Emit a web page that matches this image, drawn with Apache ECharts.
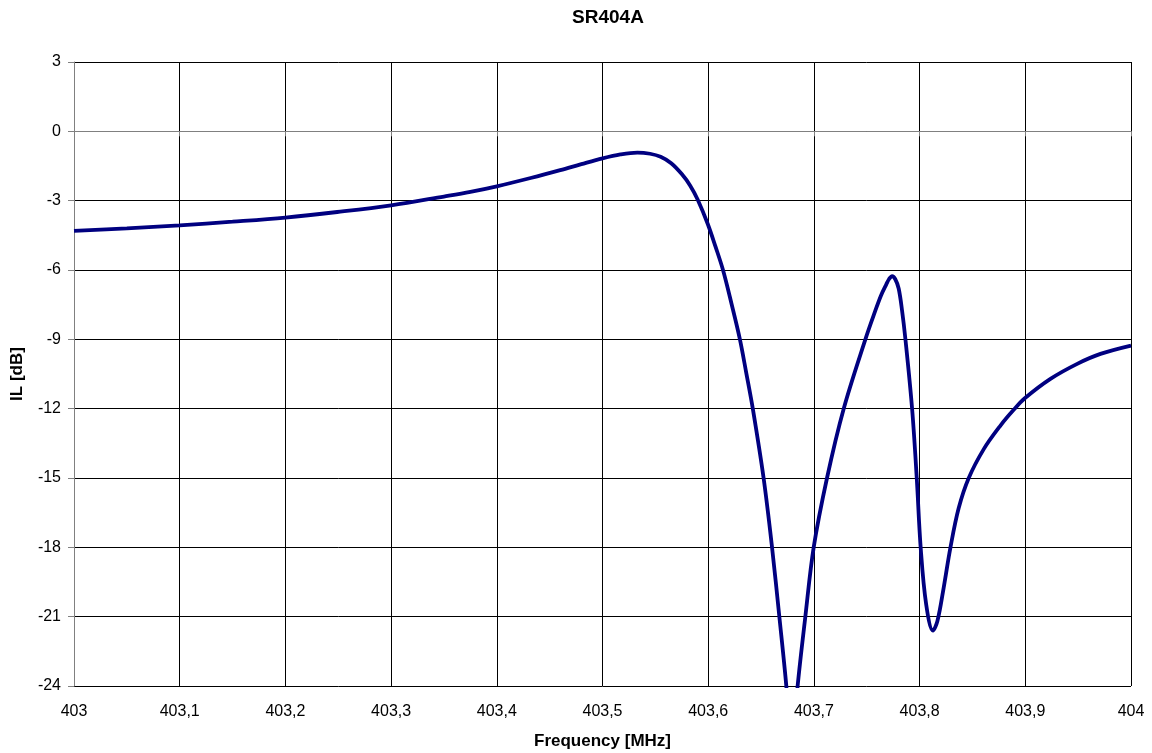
<!DOCTYPE html>
<html>
<head>
<meta charset="utf-8">
<script src="https://cdn.jsdelivr.net/npm/echarts@6/dist/echarts.min.js"></script>
<style>
html,body{margin:0;padding:0;background:#fff;}
#chart{width:1152px;height:753px;}
</style>
</head>
<body>
<div id="chart"></div>
<script>
const chartTitle = "SR404A";
const xAxisName = "Frequency [MHz]";
const yAxisName = "IL [dB]";
const frequency = [
  403.000, 403.050, 403.100, 403.150, 403.200, 403.249, 403.300, 403.350, 403.375, 403.400,
  403.432, 403.460, 403.480, 403.500, 403.517, 403.533, 403.545, 403.555, 403.565, 403.575,
  403.583, 403.590, 403.5995, 403.607, 403.614, 403.622, 403.630, 403.636, 403.6422, 403.6524,
  403.6604, 403.6673, 403.6739, 403.679, 403.6846, 403.6919, 403.6998, 403.7124, 403.7282, 403.7487,
  403.7582, 403.7635, 403.7685, 403.771, 403.774, 403.777, 403.7802, 403.7834, 403.7866, 403.7929,
  403.7973, 403.801, 403.8062, 403.8126, 403.8168, 403.8228, 403.8292, 403.837, 403.8465, 403.8607,
  403.8765, 403.889, 403.8995, 403.9238, 403.9491, 403.9711, 404.000
];
const ilDb = [
  -4.31, -4.20, -4.07, -3.91, -3.73, -3.49, -3.20, -2.82, -2.62, -2.38,
  -2.02, -1.68, -1.42, -1.17, -1.00, -0.92, -0.97, -1.10, -1.38, -1.85,
  -2.35, -2.95, -4.00, -5.00, -6.00, -7.45, -9.00, -10.45, -12.00, -15.00,
  -18.00, -21.00, -24.00, -27.00, -24.00, -21.00, -18.00, -15.00, -12.00, -9.00,
  -7.75, -7.10, -6.62, -6.40, -6.27, -6.40, -6.80, -7.75, -9.00, -12.00,
  -15.00, -18.00, -20.46, -21.60, -21.20, -19.74, -18.00, -16.30, -15.00, -13.75,
  -12.73, -12.05, -11.55, -10.71, -10.06, -9.63, -9.27
];
const xMin = 403, xMax = 404, xStep = 0.1;
const yMin = -24, yMax = 3, yStep = 3;

const seriesData = frequency.map((f, i) => [f, ilDb[i]]);
const fontFam = '"Liberation Sans", Arial, Helvetica, sans-serif';

const chart = echarts.init(document.getElementById('chart'));
chart.setOption({
  backgroundColor: '#ffffff',
  animation: false,
  title: {
    text: chartTitle,
    left: 603, textAlign: 'center', top: 3,
    textStyle: { fontFamily: fontFam, fontSize: 19, fontWeight: 'bold', color: '#000' }
  },
  grid: { left: 74, top: 62, width: 1057, height: 624, containLabel: false, outerBoundsMode: 'none' },
  xAxis: {
    type: 'value', min: xMin, max: xMax, interval: xStep,
    name: xAxisName, nameLocation: 'middle', nameGap: 47,
    nameTextStyle: { fontFamily: fontFam, fontSize: 17, fontWeight: 'bold', color: '#000' },
    axisLine: { show: true, lineStyle: { color: '#808080', width: 1 } },
    axisTick: { show: true, length: 5, lineStyle: { color: '#808080' } },
    axisLabel: {
      margin: 18, fontFamily: fontFam, fontSize: 16, color: '#000',
      formatter: v => (Math.round(v * 10) / 10).toString().replace('.', ',')
    },
    splitLine: { show: true, lineStyle: { color: '#000', width: 1 } }
  },
  yAxis: {
    type: 'value', min: yMin, max: yMax, interval: yStep,
    name: yAxisName, nameLocation: 'middle', nameGap: 48, nameRotate: 90,
    nameTextStyle: { fontFamily: fontFam, fontSize: 17, fontWeight: 'bold', color: '#000' },
    axisLine: { show: true, lineStyle: { color: '#808080', width: 1 } },
    axisTick: { show: true, length: 6, lineStyle: { color: '#808080' } },
    axisLabel: { margin: 13, fontFamily: fontFam, fontSize: 16, color: '#000' },
    splitLine: { show: true, lineStyle: { color: '#000', width: 1 } }
  },
  series: [{
    type: 'line',
    data: seriesData,
    showSymbol: false,
    symbol: 'none',
    smooth: 0.35,
    clip: true,
    lineStyle: { color: '#000080', width: 3.8 }
  }]
});
</script>
</body>
</html>
